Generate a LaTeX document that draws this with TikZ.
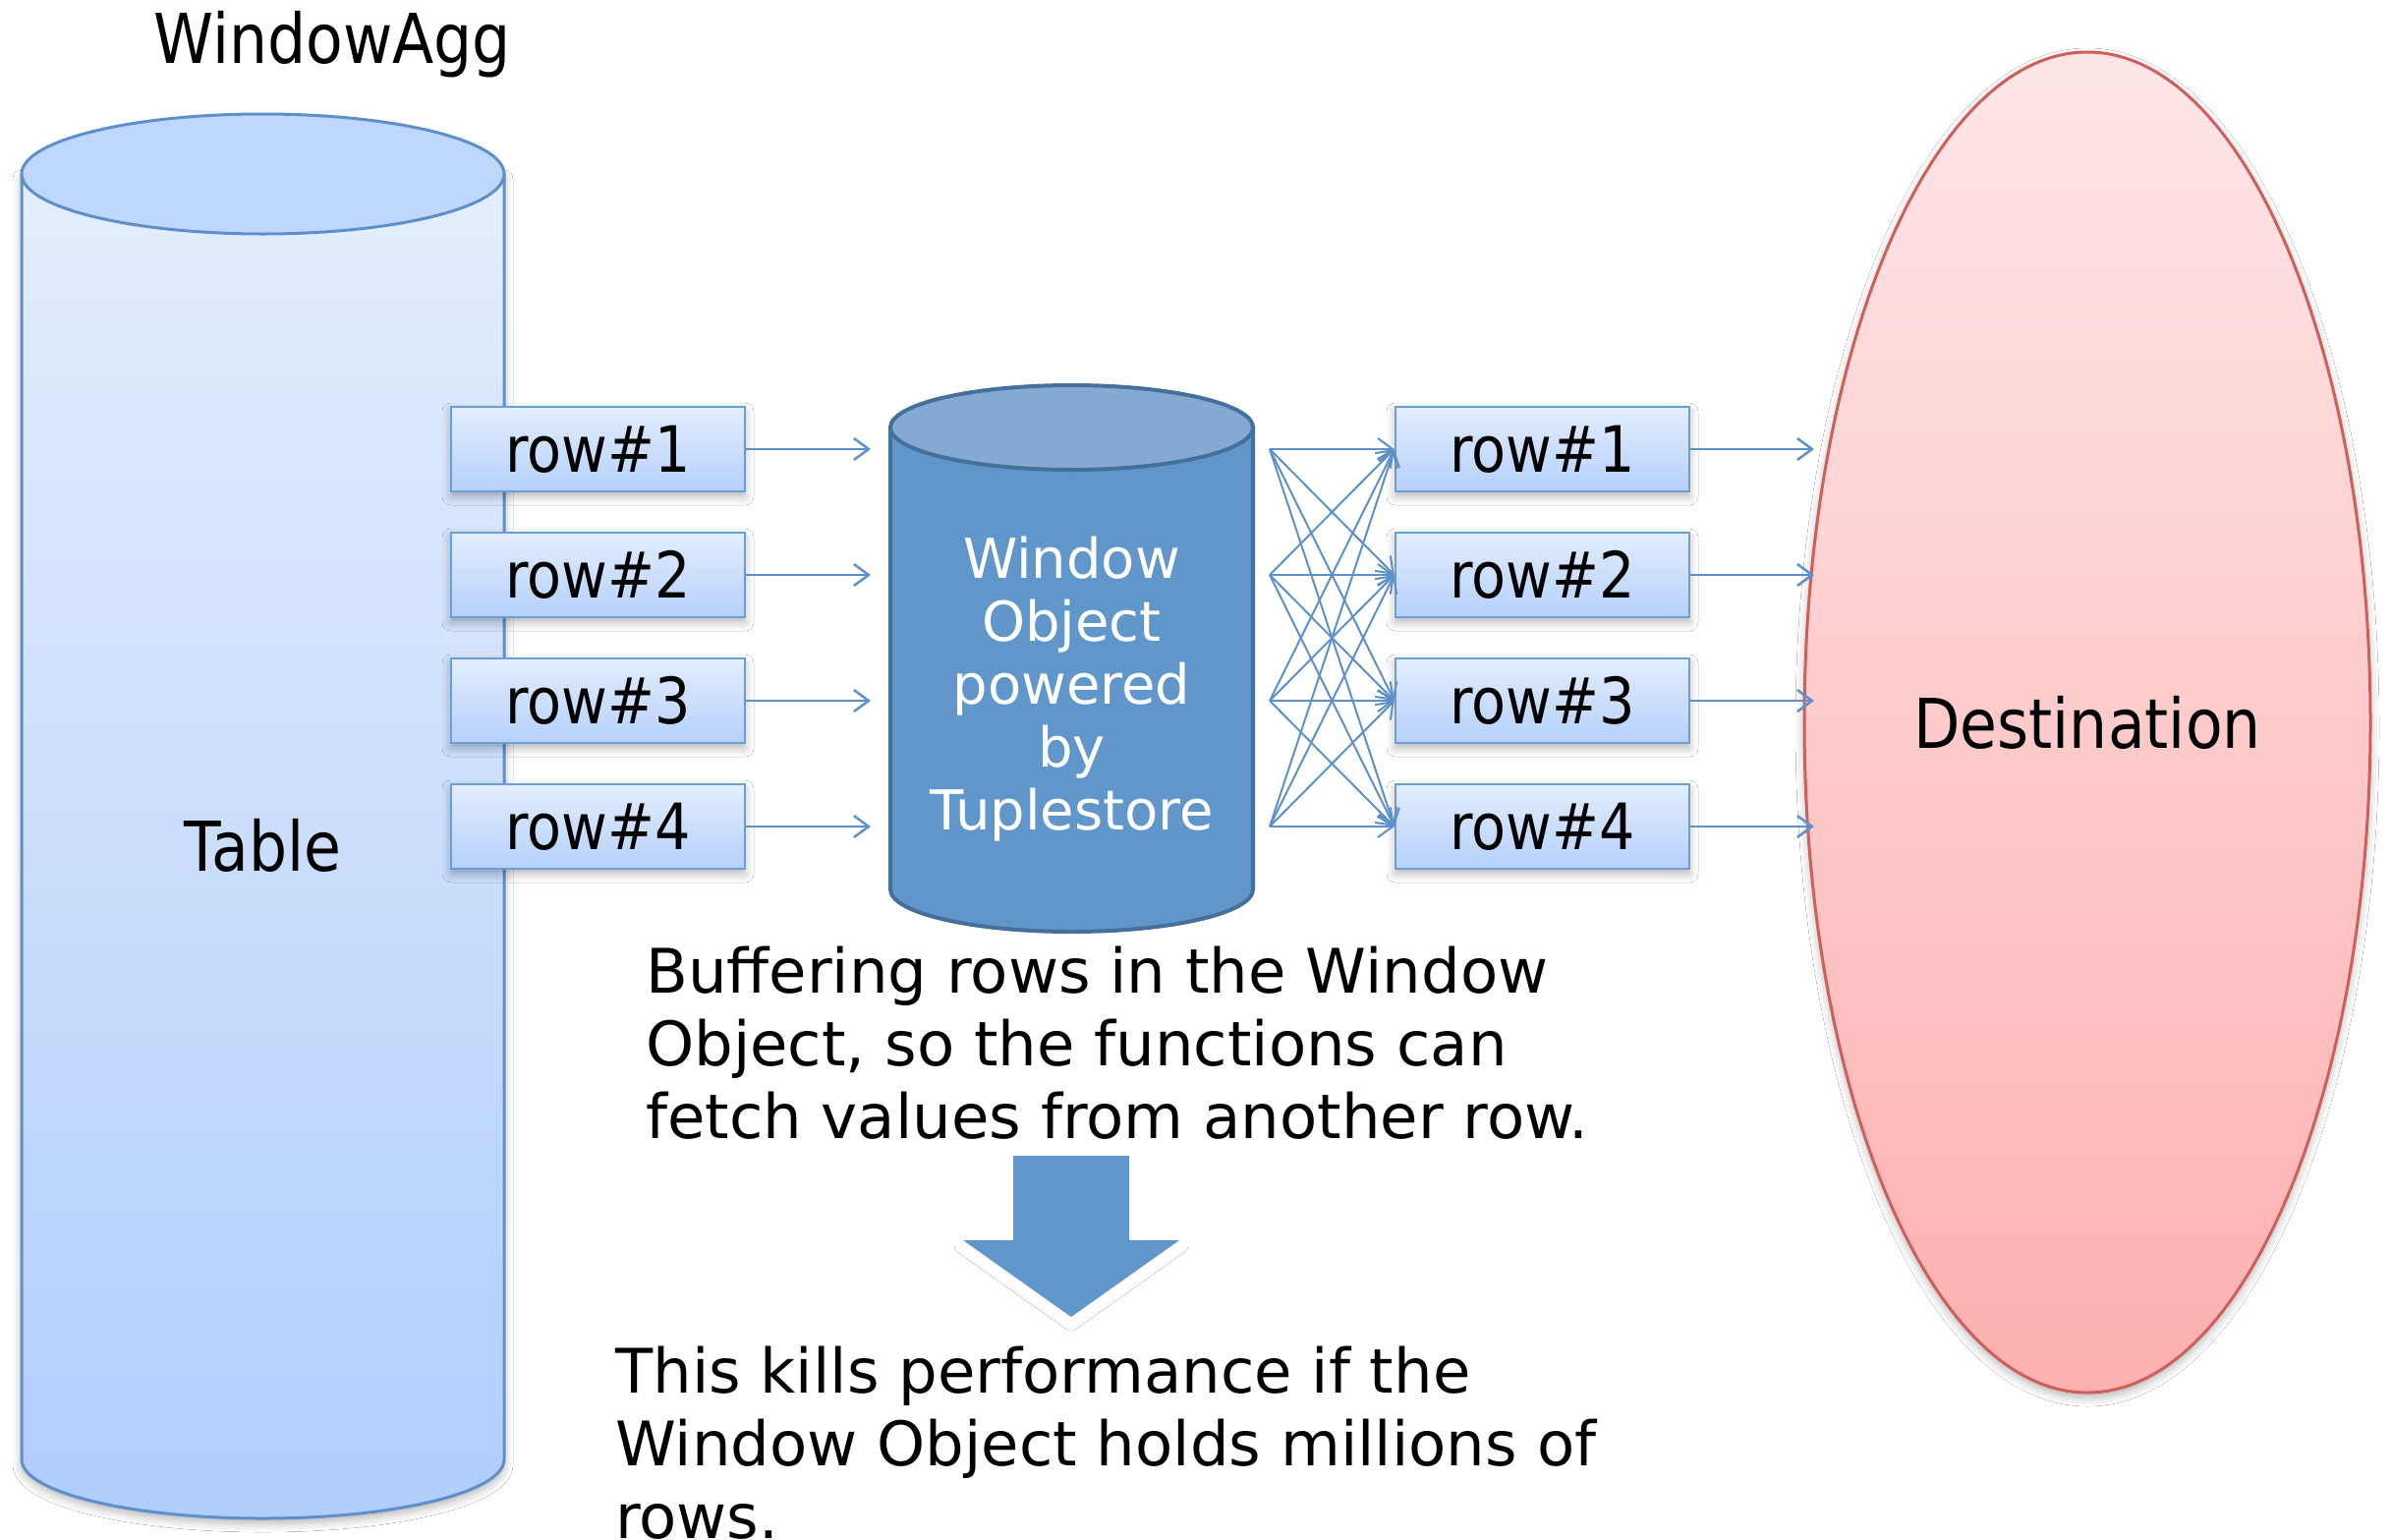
\documentclass[tikz,border=0pt]{standalone}
\usepackage{fontspec}
\setmainfont{DejaVu Sans}
\newfontfamily\condfont[FakeStretch=0.88]{DejaVu Sans}
\usetikzlibrary{arrows.meta,shapes.geometric,shadows.blur}

\definecolor{flowblue}{RGB}{94,144,202}
\definecolor{tableedge}{RGB}{94,143,203}
\definecolor{tabletop}{RGB}{190,215,251}
\definecolor{tablelight}{RGB}{228,238,253}
\definecolor{tabledark}{RGB}{177,205,251}
\definecolor{rowlight}{RGB}{227,237,253}
\definecolor{rowdark}{RGB}{181,208,251}
\definecolor{rowedge}{RGB}{108,157,211}
\definecolor{storeside}{RGB}{96,150,201}
\definecolor{storetop}{RGB}{132,170,211}
\definecolor{storeedge}{RGB}{70,112,156}
\definecolor{destlight}{RGB}{254,230,231}
\definecolor{destdark}{RGB}{253,176,176}
\definecolor{destedge}{RGB}{207,95,91}

\begin{document}
\begin{tikzpicture}[x=1pt,y=-1pt,
  softshadow/.style={blur shadow={shadow xshift=0pt, shadow yshift=-5pt,
      shadow blur radius=9pt, shadow opacity=30}},
  bigtext/.style={font=\condfont\fontsize{70}{82}\selectfont, inner sep=0pt},
  rowbox/.style={rectangle, draw=rowedge, line width=2.5pt,
      top color=rowlight, bottom color=rowdark,
      minimum width=299pt, minimum height=86pt, inner sep=0pt,
      font=\condfont\fontsize{65}{78}\selectfont, softshadow},
  flow/.style={draw=flowblue, line width=2.5pt,
      -{Straight Barb[length=15pt,width=22pt]}},
  fan/.style={draw=flowblue, line width=2pt,
      -{Straight Barb[length=15pt,width=22pt]}},
  para/.style={anchor=north west, align=left, inner sep=0pt,
      font=\fontsize{62.5}{74}\selectfont}]

% canvas
\fill[white] (0,0) rectangle (2433,1566);
\useasboundingbox (0,0) rectangle (2433,1566);

% title
\node[bigtext, anchor=base] (title) at (338,64) {WindowAgg};

% source table cylinder
\path[draw=tableedge, line width=3pt, top color=tablelight, bottom color=tabledark, softshadow]
  (22,177) -- (22,1485)
  arc[start angle=180, end angle=360, x radius=245.5pt, y radius=60pt]
  -- (513,177) -- cycle;
\path[draw=tableedge, line width=3pt, fill=tabletop]
  (267.5,177) ellipse [x radius=245.5pt, y radius=61pt];
\node[bigtext] (tablelabel) at (267.5,860) {Table};

% destination
\node[ellipse, draw=destedge, line width=3pt, top color=destlight, bottom color=destdark,
      minimum width=576pt, minimum height=1364pt, bigtext, softshadow]
  (dest) at (2124,735) {Destination};

% window object (tuplestore) cylinder
\path[draw=storeedge, line width=4pt, fill=storeside]
  (906,435) -- (906,905)
  arc[start angle=180, end angle=360, x radius=184.5pt, y radius=43pt]
  -- (1275,435) -- cycle;
\path[draw=storeedge, line width=4pt, fill=storetop]
  (1090.5,435) ellipse [x radius=184.5pt, y radius=43pt];
\node[anchor=north, align=center, inner sep=0pt, text=white,
      font=\fontsize{56}{64}\selectfont] (store) at (1090.5,543.2)
  {\rule{0pt}{0.8em}Window\\Object\\powered\\by\\Tuplestore};

% rows in and out
\foreach \i/\y in {1/457,2/585,3/713,4/841} {
  \node[rowbox] (l\i) at (608.5,\y) {row\#\i};
  \node[rowbox] (r\i) at (1569.5,\y) {row\#\i};
  \coordinate (in\i) at (886,\y);
  \coordinate (s\i) at (1292,\y);
  \coordinate (out\i) at (1846,\y);
}
\foreach \i in {1,...,4} {
  \draw[flow] (l\i) -- (in\i);
  \draw[flow] (r\i) -- (out\i);
  \foreach \j in {1,...,4} {
    \draw[fan] (s\i) -- (r\j.west);
  }
}

% explanatory text
\node[para] (note) at (657,960)
  {\rule{0pt}{0.8em}Buffering rows in the Window\\Object, so the functions can\\fetch values from another row.};

% big down arrow
\path[fill=white, draw=white, line width=20pt, line join=miter, softshadow]
  (1031,1176) -- (1149,1176) -- (1149,1262) -- (1200,1262) -- (1090,1340)
  -- (980,1262) -- (1031,1262) -- cycle;
\fill[storeside]
  (1031,1176) -- (1149,1176) -- (1149,1262) -- (1200,1262) -- (1090,1340)
  -- (980,1262) -- (1031,1262) -- cycle;

\node[para] (verdict) at (626,1367)
  {\rule{0pt}{0.8em}This kills performance if the\\Window Object holds millions of\\rows.};

\end{tikzpicture}
\end{document}
